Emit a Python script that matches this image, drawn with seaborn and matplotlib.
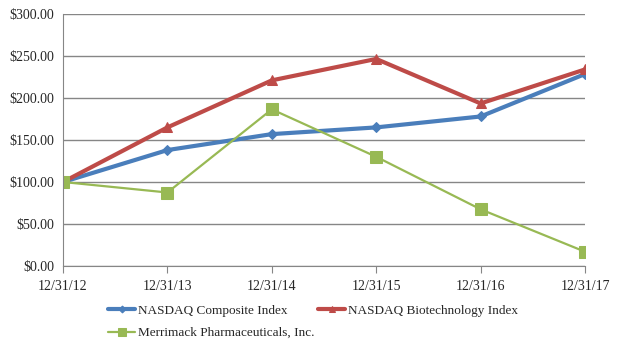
import pandas as pd
import matplotlib.pyplot as plt
import seaborn as sns

dates = ['12/31/12', '12/31/13', '12/31/14', '12/31/15', '12/31/16', '12/31/17']
nasdaq_composite = [100.0, 138.0, 157.0, 165.0, 178.0, 228.5]
nasdaq_biotech = [100.0, 165.0, 221.0, 246.5, 193.5, 234.0]
merrimack = [100.0, 87.5, 186.5, 130.0, 67.5, 17.0]

sns.set_style('white')
plt.rcParams['font.family'] = ['Liberation Serif', 'DejaVu Serif']

fig, ax = plt.subplots(figsize=(6.24, 3.5), dpi=100)
fig.subplots_adjust(left=0.101, right=0.9375, top=0.96, bottom=0.24)

x = list(range(len(dates)))
series = [
    ('NASDAQ Composite Index', nasdaq_composite, '#4a7ebb', 'D', 5, 3.0),
    ('NASDAQ Biotechnology Index', nasdaq_biotech, '#be4b48', '^', 7, 3.0),
    ('Merrimack Pharmaceuticals, Inc.', merrimack, '#98b954', 's', 9, 1.6),
]
for name, vals, color, mk, ms, lw in series:
    df = pd.DataFrame({'x': x, 'value': vals})
    sns.lineplot(data=df, x='x', y='value', ax=ax, color=color, marker=mk,
                 markersize=ms, markeredgecolor=color, linewidth=lw, label=name)

ax.set_xlim(0, len(dates) - 1)
ax.set_ylim(0, 300)
ax.set_yticks(range(0, 301, 50))
ax.set_yticklabels([f'${v:.2f}' for v in range(0, 301, 50)], fontsize=10)
ax.set_xticks(x)
ax.set_xticklabels(dates, fontsize=10)
ax.set_xlabel('')
ax.set_ylabel('')
ax.yaxis.grid(True, color='#868686', linewidth=1)
ax.tick_params(axis='x', bottom=True, direction='out', length=5, color='#868686', pad=5)
ax.tick_params(axis='y', left=False, pad=3)
for s in ['top', 'right']:
    ax.spines[s].set_visible(False)
for s in ['left', 'bottom']:
    ax.spines[s].set_color('#868686')

h, l = ax.get_legend_handles_labels()
ax.get_legend().remove()
order = [0, 2, 1]
fig.legend([h[i] for i in order], [l[i] for i in order], loc='upper left',
           bbox_to_anchor=(0.163, 0.148), ncol=2, frameon=False, fontsize=9.5,
           handlelength=2.0, handletextpad=0.25, columnspacing=0.3,
           labelspacing=0.75, borderpad=0, markerscale=0.7)

fig.savefig('out.png', dpi=100)
